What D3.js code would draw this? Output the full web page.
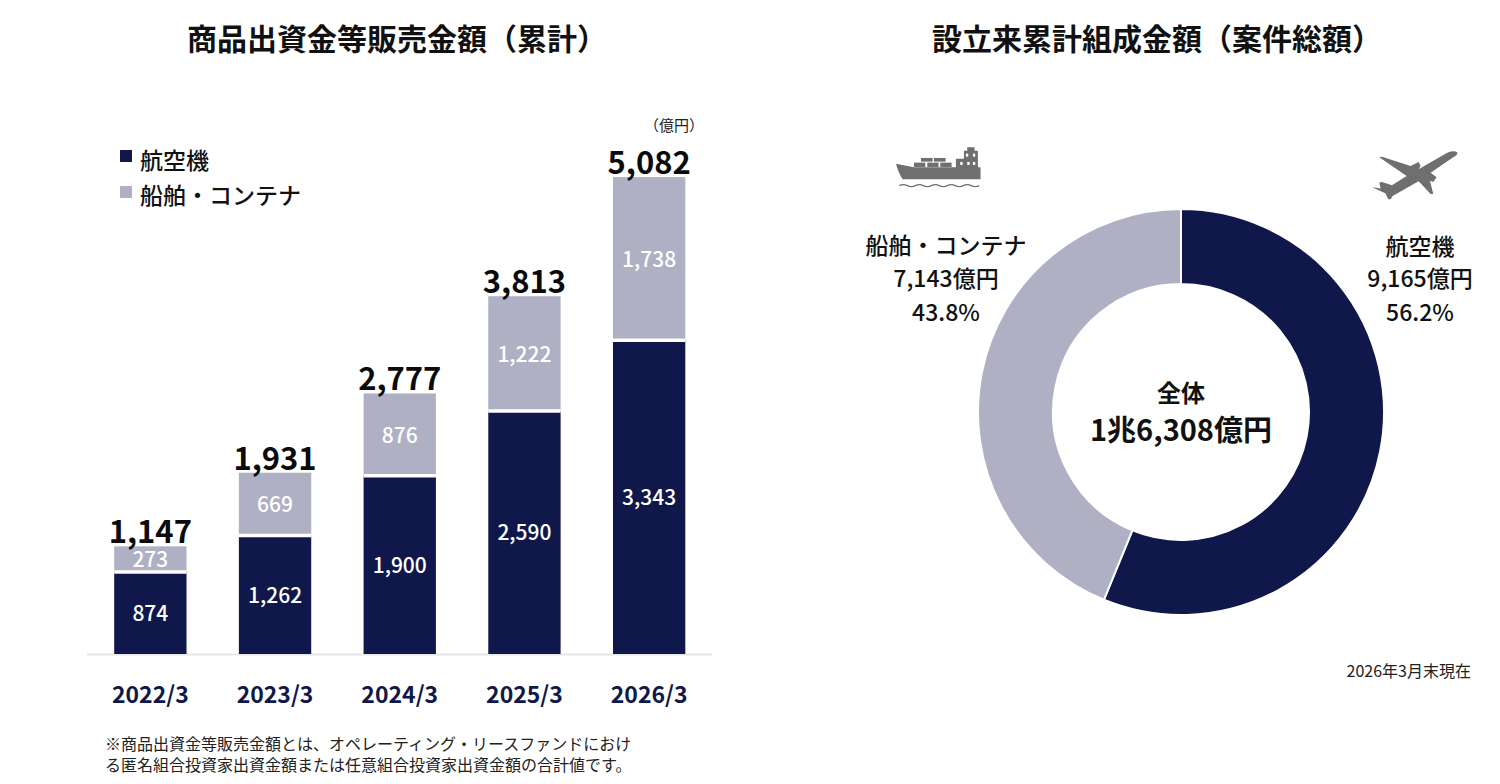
<!DOCTYPE html>
<html lang="ja">
<head>
<meta charset="utf-8">
<script src="https://cdn.jsdelivr.net/npm/d3@7/dist/d3.min.js"></script>
<style>
html,body{margin:0;padding:0;background:#fff}
svg{display:block}
text{font-family:"Noto Sans CJK JP","Noto Sans",sans-serif}
</style>
</head>
<body>
<svg id="chart" width="1500" height="784"></svg>
<script>
// Cumulative sales by fiscal period (100M yen)
const periods = ["2022/3","2023/3","2024/3","2025/3","2026/3"];
const aircraftValues = [874,1262,1900,2590,3343];
const shipValues = [273,669,876,1222,1738];
const totalValues = [1147,1931,2777,3813,5082];

// Cumulative arrangement amount by asset type
const donutNames = ["航空機","船舶・コンテナ"];
const donutValues = [9165,7143];
const donutShares = ["56.2%","43.8%"];

const navy = "#10174a";
const grey = "#afb0c3";

const svg = d3.select("#chart");

const label = (x,y,txt,size,weight,fill,anchor="middle") =>
  svg.append("text").attr("x",x).attr("y",y).attr("font-size",size)
    .attr("font-weight",weight).attr("fill",fill).attr("text-anchor",anchor).text(txt);

// Panel headings
label(397,50,"商品出資金等販売金額（累計）",30,700,"#111");
label(1157,50,"設立来累計組成金額（案件総額）",30,700,"#111");

// Stacked bars
const x = d3.scaleBand().domain(periods).range([88,711.5]).paddingInner(0.42).paddingOuter(0.21);
const y = d3.scaleLinear().domain([0,5082]).range([654,177]);

svg.append("line").attr("x1",87).attr("x2",712).attr("y1",654.5).attr("y2",654.5)
  .attr("stroke","#e6e6e6").attr("stroke-width",2);

const rows = periods.map((p,i)=>({p,air:aircraftValues[i],ship:shipValues[i],total:totalValues[i]}));

svg.append("g").selectAll("rect").data(rows).join("rect")
  .attr("x",d=>x(d.p)).attr("width",x.bandwidth())
  .attr("y",d=>y(d.air)).attr("height",d=>y(0)-y(d.air))
  .attr("fill",navy);
svg.append("g").selectAll("rect").data(rows).join("rect")
  .attr("x",d=>x(d.p)).attr("width",x.bandwidth())
  .attr("y",d=>y(d.air+d.ship)).attr("height",d=>y(d.air)-y(d.air+d.ship))
  .attr("fill",grey);
// White divider between the two stack segments
svg.append("g").selectAll("line").data(rows).join("line")
  .attr("x1",d=>x(d.p)).attr("x2",d=>x(d.p)+x.bandwidth())
  .attr("y1",d=>y(d.air)).attr("y2",d=>y(d.air))
  .attr("stroke","#fff").attr("stroke-width",3.5);

const fmt = d3.format(",");
rows.forEach(d=>{
  const cx = x(d.p)+x.bandwidth()/2;
  label(cx,(y(d.air)+y(0))/2+8,fmt(d.air),21,500,"#fff");
  label(cx,(y(d.air+d.ship)+y(d.air))/2+8,fmt(d.ship),21,500,"#fff");
  label(cx,y(d.air+d.ship)-3,fmt(d.total),31,700,"#0a0a0a");
  label(cx,703,d.p,23,700,navy);
});

label(704,131,"（億円）",15,400,"#222","end");

// Legend
svg.append("rect").attr("x",120).attr("y",150).attr("width",12).attr("height",12).attr("fill",navy);
svg.append("rect").attr("x",120).attr("y",186).attr("width",12).attr("height",12).attr("fill",grey);
label(140,169,donutNames[0],23,500,"#111","start");
label(140,204,donutNames[1],23,500,"#111","start");

// Footnote
label(105,750,"※商品出資金等販売金額とは、オペレーティング・リースファンドにおけ",16,400,"#222","start");
label(105,771,"る匿名組合投資家出資金額または任意組合投資家出資金額の合計値です。",16,400,"#222","start");

// Donut of arrangement amount
const cx = 1181, cy = 412;
const pie = d3.pie().sort(null)(donutValues);
const arc = d3.arc().innerRadius(128).outerRadius(203);
svg.append("g").attr("transform",`translate(${cx},${cy})`)
  .selectAll("path").data(pie).join("path")
  .attr("d",arc).attr("fill",(d,i)=>i?grey:navy)
  .attr("stroke","#fff").attr("stroke-width",2);

label(cx,402,"全体",24,700,"#111");
label(cx,441,`1兆${fmt(d3.sum(donutValues)-1e4)}億円`,29,700,"#111");

const callout = (cxx,i,ys)=>{
  label(cxx,ys[0],donutNames[i],23,500,"#111");
  label(cxx,ys[1],`${fmt(donutValues[i])}億円`,23,500,"#111");
  label(cxx,ys[2],donutShares[i],23,500,"#111");
};
callout(1420,0,[255,287,321]);
callout(946,1,[254,287,321]);

label(1471,677,"2026年3月末現在",16,400,"#222","end");

// Container ship pictogram
const ship = svg.append("g").attr("fill","#6f6f6f").attr("transform","translate(880,130) scale(0.333)");
ship.append("path").attr("d","M48 101 L102 112 L228 112 L228 86 L252 86 L252 62 L262 62 L262 52 L284 52 L284 62 L294 62 L294 112 L302 112 L302 148 L68 148 Q56 130 48 101 Z");
ship.append("rect").attr("x",102).attr("y",98).attr("width",34).attr("height",13);
ship.append("rect").attr("x",142).attr("y",98).attr("width",34).attr("height",13);
ship.append("rect").attr("x",181).attr("y",98).attr("width",34).attr("height",13);
ship.append("rect").attr("x",123).attr("y",84).attr("width",35).attr("height",11);
ship.append("rect").attr("x",162).attr("y",84).attr("width",35).attr("height",11);
[[258,71],[279,71],[241,96],[262,96],[279,96]].forEach(p=>
  ship.append("rect").attr("x",p[0]).attr("y",p[1]).attr("width",7).attr("height",9).attr("fill","#fff"));
ship.append("path").attr("fill","none").attr("stroke","#6f6f6f").attr("stroke-width",4)
  .attr("d","M58 167 q12 -6 24 0 t24 0 t24 0 t24 0 t24 0 t24 0 t24 0 t24 0 t24 0 t24 0");

// Airliner pictogram
svg.append("path").attr("fill","#6f6f6f").attr("transform","translate(1360,140) scale(0.333)")
  .attr("d","M293 38 Q292 46 280 52 L212 98 L230 112 L220 126 L210 122 L220 162 L212 162 L176 124 L98 168 L92 178 L85 178 L76 160 L36 142 L62 146 L58 128 L66 126 L96 136 L140 108 L58 52 L66 50 L152 78 L176 66 L182 78 L176 88 L262 38 Q284 30 293 38 Z");
</script>
</body>
</html>
